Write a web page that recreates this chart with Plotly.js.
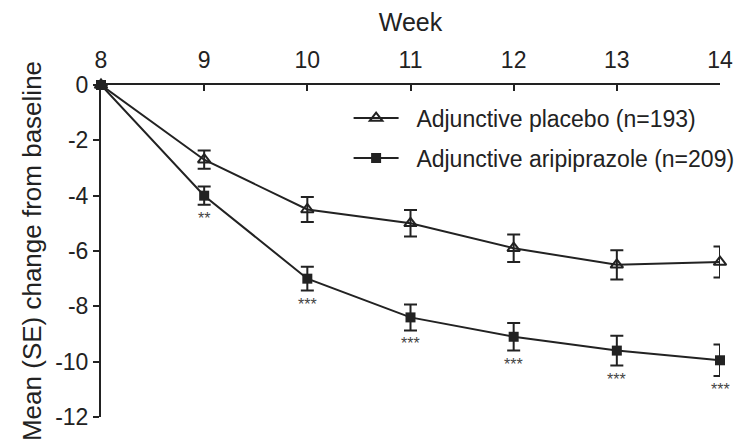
<!DOCTYPE html>
<html><head><meta charset="utf-8">
<script src="https://cdn.plot.ly/plotly-3.0.1.min.js"></script>
<style>html,body{margin:0;padding:0;background:#fff}#c{width:739px;height:448px}</style>
</head><body><div id="c"></div>
<script>
const weeks = [8, 9, 10, 11, 12, 13, 14];
const placeboMean = [0, -2.7, -4.5, -5.0, -5.9, -6.5, -6.4];
const placeboSE = [0, 0.33, 0.45, 0.48, 0.5, 0.53, 0.56];
const ariMean = [0, -4.0, -7.0, -8.4, -9.1, -9.6, -9.95];
const ariSE = [0, 0.33, 0.43, 0.47, 0.5, 0.54, 0.57];
const sigLabels = ["", "**", "***", "***", "***", "***", "***"];
const names = ["Adjunctive placebo (n=193)", "Adjunctive aripiprazole (n=209)"];
const yTickVals = [0, -2, -4, -6, -8, -10, -12];
const yTickText = ["0", "-2", "-4", "-6", "-8", "-10", "-12"];

const font = "Liberation Sans, Arial, sans-serif";
const ink = "#222";

const traces = [
  {x: weeks, y: placeboMean, name: "\u00a0\u00a0" + names[0], legendgroup: "a", mode: "lines+markers", type: "scatter",
   line: {color: ink, width: 2},
   marker: {symbol: "triangle-up-open", size: 11, color: ink, line: {width: 2, color: ink}},
   error_y: {type: "data", array: placeboSE, visible: true, color: ink, thickness: 2, width: 6.5},
   cliponaxis: false},
  {x: weeks, y: ariMean, name: "\u00a0\u00a0" + names[1], legendgroup: "b", mode: "lines+markers", type: "scatter",
   line: {color: ink, width: 2},
   marker: {symbol: "square", size: 10, color: ink},
   error_y: {type: "data", array: ariSE, visible: true, color: ink, thickness: 2, width: 6.5},
   cliponaxis: false}
];

const annotations = weeks.map((w, i) => ({
  x: w, y: ariMean[i] - ariSE[i], text: sigLabels[i], showarrow: false,
  yanchor: "top", yshift: -3, font: {family: font, size: 16, color: "#444"}
})).filter(a => a.text);

const layout = {
  width: 739, height: 448,
  margin: {l: 101, r: 19, t: 85, b: 31, autoexpand: false},
  paper_bgcolor: "#fff", plot_bgcolor: "#fff",
  font: {family: font, color: ink},
  showlegend: true,
  legend: {x: 0.4, y: 0.965, xanchor: "left", yanchor: "top", font: {size: 23, color: ink},
           bgcolor: "rgba(0,0,0,0)", tracegroupgap: 7, traceorder: "grouped", itemwidth: 45},
  xaxis: {side: "top", range: [8, 14], tickvals: weeks, ticks: "inside", ticklen: 6,
          tickcolor: ink, tickwidth: 2, showline: true, linecolor: ink, linewidth: 2,
          showgrid: false, zeroline: false, tickfont: {size: 23, color: ink}, ticklabelstandoff: 6,
          automargin: false,
          title: {text: "Week", font: {size: 25, color: ink}, standoff: 8}},
  yaxis: {range: [-12, 0], tickvals: yTickVals, ticktext: yTickText, ticks: "outside",
          ticklen: 6, tickcolor: ink, tickwidth: 2, showline: true, linecolor: ink,
          linewidth: 2, showgrid: false, zeroline: false, tickfont: {size: 23, color: ink},
          automargin: false,
          title: {text: "Mean (SE) change from baseline", font: {size: 26, color: ink}, standoff: 6}},
  annotations: annotations
};

Plotly.newPlot("c", traces, layout, {displayModeBar: false, staticPlot: true});
</script>
</body></html>
